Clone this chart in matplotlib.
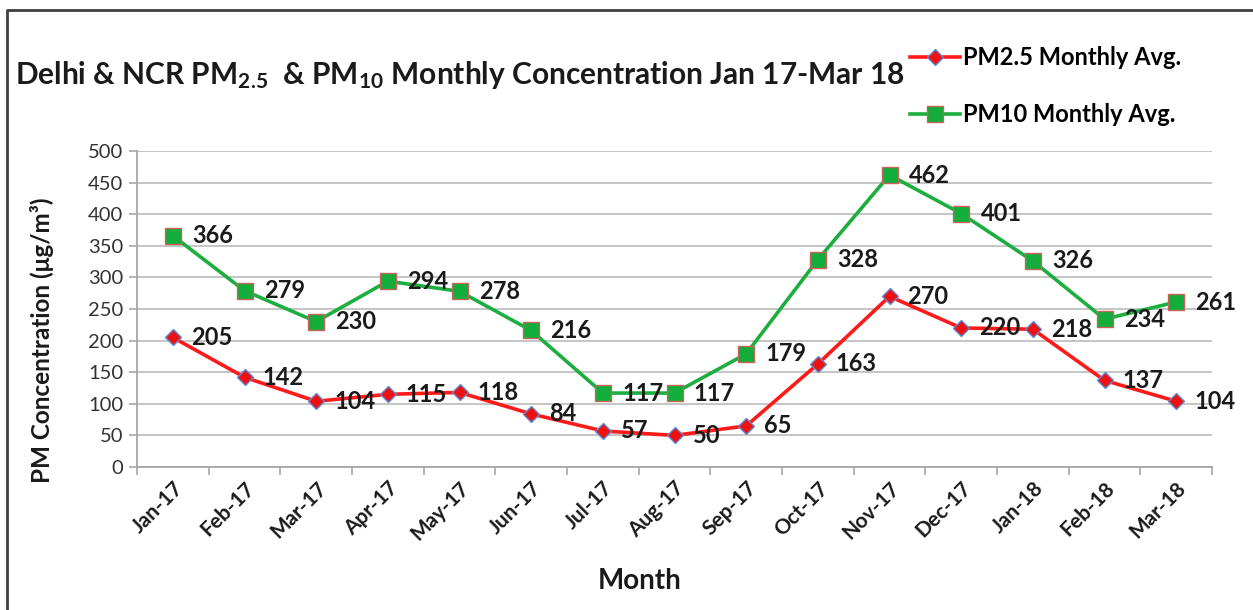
import matplotlib
matplotlib.use("Agg")
import matplotlib.pyplot as plt
from matplotlib.lines import Line2D
import numpy as np

months = ["Jan-17", "Feb-17", "Mar-17", "Apr-17", "May-17", "Jun-17", "Jul-17", "Aug-17",
          "Sep-17", "Oct-17", "Nov-17", "Dec-17", "Jan-18", "Feb-18", "Mar-18"]
pm25 = [205, 142, 104, 115, 118, 84, 57, 50, 65, 163, 270, 220, 218, 137, 104]
pm10 = [366, 279, 230, 294, 278, 216, 117, 117, 179, 328, 462, 401, 326, 234, 261]
yticks = [0, 50, 100, 150, 200, 250, 300, 350, 400, 450, 500]

plt.rcParams['font.family'] = ['Lato', 'DejaVu Sans']
plt.rcParams['mathtext.fontset'] = 'custom'
plt.rcParams['mathtext.rm'] = 'Lato:bold'
plt.rcParams['mathtext.it'] = 'Lato:bold'
plt.rcParams['mathtext.bf'] = 'Lato:bold'

W, H = 1253, 610
fig = plt.figure(figsize=(W / 100, H / 100), dpi=100)
ax = fig.add_axes([137 / W, 1 - 467 / H, (1212 - 137) / W, (467 - 151) / H])

x = np.arange(len(months))
l1, = ax.plot(x, pm25, color='#ff1a1a', lw=2.6, marker='D', markersize=8,
              markerfacecolor='#ee1111', markeredgecolor='#5b8bd6', markeredgewidth=1.0,
              label='PM2.5 Monthly Avg.', zorder=3)
l2, = ax.plot(x, pm10, color='#1cae3f', lw=2.6, marker='s', markersize=11,
              markerfacecolor='#12ad3a', markeredgecolor='#c8645a', markeredgewidth=1.0,
              label='PM10 Monthly Avg.', zorder=3)

for xi, v in zip(x, pm25):
    ax.annotate(str(v), (xi, v), xytext=(13, 0), textcoords='offset points',
                ha='left', va='center', fontsize=17, fontweight='bold', color='#1a1a1a', zorder=4)
for xi, v in zip(x, pm10):
    ax.annotate(str(v), (xi, v), xytext=(14, 0), textcoords='offset points',
                ha='left', va='center', fontsize=17, fontweight='bold', color='#1a1a1a', zorder=4)

ax.set_xlim(-0.5, len(months) - 0.5)
ax.set_ylim(0, 500)
ax.set_yticks(yticks)
ax.set_yticklabels([str(t) for t in yticks], fontsize=14.5, color='#333333')
ax.set_xticks(x)
ax.set_xticklabels(months, rotation=45, ha='right', rotation_mode='anchor',
                   fontsize=15, fontweight='bold', color='#1a1a1a')
ax.tick_params(axis='x', which='major', length=0, pad=8)
ax.set_xticks(np.arange(-0.5, len(months), 1.0), minor=True)
ax.tick_params(axis='x', which='minor', length=6, color='#a6a6a6', width=1.2, direction='out')
ax.tick_params(axis='y', length=6, color='#a6a6a6', width=1.2, direction='out', pad=4)
ax.grid(axis='y', color='#c0c0c0', lw=1.3)
ax.set_axisbelow(True)
for s in ['top', 'right']:
    ax.spines[s].set_visible(False)
for s in ['left', 'bottom']:
    ax.spines[s].set_color('#a6a6a6')
    ax.spines[s].set_linewidth(1.3)

ax.set_ylabel('PM Concentration (μg/m³)', fontsize=17.5, fontweight='bold', color='#1a1a1a')
ax.yaxis.set_label_coords(-0.077, 0.40)
ax.set_xlabel('Month', fontsize=20, fontweight='bold', color='#1a1a1a')
ax.xaxis.set_label_coords(0.468, -0.32)

fig.text(15 / W, 1 - 75 / H, 'Delhi & NCR PM$_{2.5}$  & PM$_{10}$ Monthly Concentration Jan 17-Mar 18',
         fontsize=21.5, fontweight='bold', color='#1a1a1a', ha='left', va='center')

fig.legend(handles=[l1, l2], loc='upper left', bbox_to_anchor=(910 / W, 1 - 46 / H),
           frameon=False, prop={'weight': 'bold', 'size': 17},
           handlelength=2.1, labelspacing=1.45, handletextpad=0.15,
           borderpad=0, borderaxespad=0)

fig.add_artist(Line2D([7 / W, 7 / W, 1], [0, 1 - 10 / H, 1 - 10 / H],
                      transform=fig.transFigure, color='#404040', lw=2))

fig.savefig('out.png', dpi=100)
